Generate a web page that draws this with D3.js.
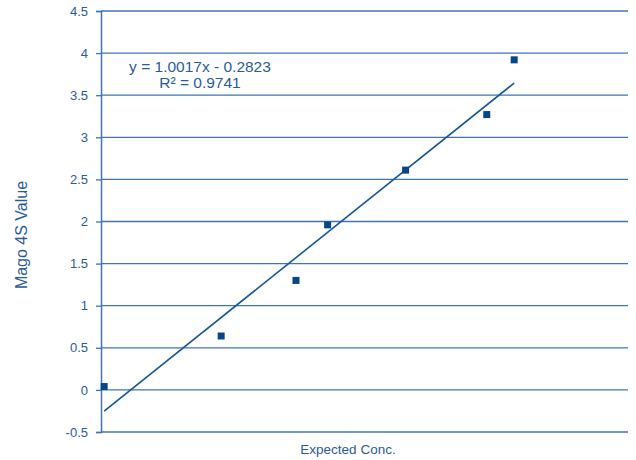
<!DOCTYPE html>
<html>
<head>
<meta charset="utf-8">
<script src="https://cdn.jsdelivr.net/npm/d3@7"></script>
<style>
  html, body { margin: 0; padding: 0; background: #fff; }
  svg { display: block; font-family: "Liberation Sans", Arial, sans-serif; }
</style>
</head>
<body>
<svg id="chart" width="636" height="460"></svg>
<script>
// Measured concentrations against Mago 4S readings
const expectedConc = [0.03, 1.14, 1.85, 2.15, 2.89, 3.66, 3.92];
const magoValues   = [0.04, 0.64, 1.30, 1.96, 2.61, 3.27, 3.92];
const yTicks = [-0.5, 0, 0.5, 1, 1.5, 2, 2.5, 3, 3.5, 4, 4.5];
// Linear trendline fit
const slope = 1.0017;
const intercept = -0.2823;
const rSquared = 0.9741;

const svg = d3.select("#chart");
const plotLeft = 101, plotRight = 628, plotTop = 11, plotBottom = 432;
const gridColor = "#3f74b6";
const textColor = "#2a5b9c";
const markColor = "#07468a";

const x = d3.scaleLinear().domain([0, 5]).range([plotLeft, plotRight]);
const y = d3.scaleLinear().domain([-0.5, 4.5]).range([plotBottom, plotTop]);

// horizontal gridlines
svg.append("g")
  .selectAll("line")
  .data(yTicks)
  .join("line")
  .attr("x1", plotLeft).attr("x2", plotRight)
  .attr("y1", d => y(d)).attr("y2", d => y(d))
  .attr("stroke", gridColor).attr("stroke-width", 1.3);

// y axis
const yAxis = d3.axisLeft(y).tickValues(yTicks).tickSize(5).tickPadding(8)
  .tickFormat(d => String(d));
const gy = svg.append("g").attr("transform", `translate(${plotLeft},0)`).call(yAxis);
gy.select(".domain").attr("stroke", gridColor).attr("stroke-width", 1.5);
gy.selectAll(".tick line").attr("stroke", gridColor).attr("stroke-width", 1.3);
gy.selectAll(".tick text").attr("fill", textColor).attr("font-size", 13)
  .attr("font-family", "Liberation Sans, Arial, sans-serif");

// trendline across the data range
const xs = d3.extent(expectedConc);
svg.append("line")
  .attr("x1", x(xs[0])).attr("y1", y(slope * xs[0] + intercept))
  .attr("x2", x(xs[1])).attr("y2", y(slope * xs[1] + intercept))
  .attr("stroke", "#18579a").attr("stroke-width", 1.6);

// data markers
const sz = 7;
svg.append("g")
  .selectAll("rect")
  .data(expectedConc.map((d, i) => [d, magoValues[i]]))
  .join("rect")
  .attr("x", d => x(d[0]) - sz / 2)
  .attr("y", d => y(d[1]) - sz / 2)
  .attr("width", sz).attr("height", sz)
  .attr("fill", markColor);

// equation label
const eq = svg.append("text")
  .attr("fill", textColor).attr("font-size", 15.5).attr("text-anchor", "middle");
eq.append("tspan").attr("x", 200).attr("y", 72)
  .text(`y = ${slope.toFixed(4)}x - ${Math.abs(intercept).toFixed(4)}`);
eq.append("tspan").attr("x", 200).attr("y", 88)
  .text(`R² = ${rSquared.toFixed(4)}`);

// axis titles
svg.append("text")
  .attr("x", 348).attr("y", 454)
  .attr("text-anchor", "middle")
  .attr("fill", textColor).attr("font-size", 13.5)
  .text("Expected Conc.");

svg.append("text")
  .attr("transform", "translate(27,235) rotate(-90)")
  .attr("text-anchor", "middle")
  .attr("fill", textColor).attr("font-size", 16)
  .text("Mago 4S Value");
</script>
</body>
</html>
